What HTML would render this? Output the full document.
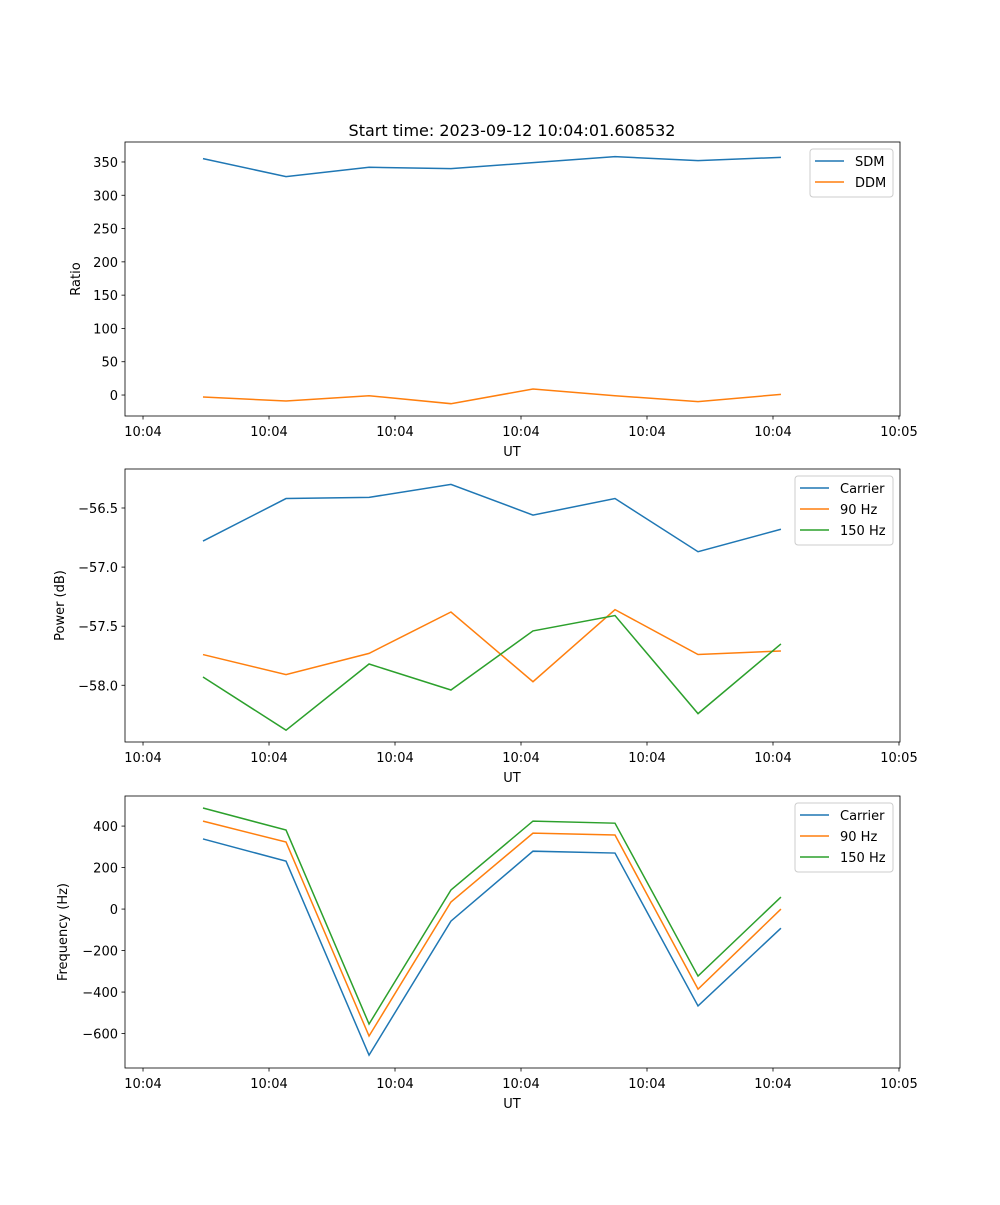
<!DOCTYPE html>
<html><head><meta charset="utf-8"><style>
body{margin:0;background:#fff}
svg text{font-family:"DejaVu Sans","Liberation Sans",sans-serif;fill:#000}
</style></head><body>
<svg id="fig" width="1000" height="1200" xmlns="http://www.w3.org/2000/svg">
<rect width="1000" height="1200" fill="#fff"/>
<text x="512" y="136" font-size="16" text-anchor="middle">Start time: 2023-09-12 10:04:01.608532</text>
</svg>
<script>
const times=[0.476,1.135,1.794,2.444,3.095,3.746,4.405,5.063];
const xTicks=[0,1,2,3,4,5,6];
const xTickLabels=["10:04","10:04","10:04","10:04","10:04","10:04","10:05"];
const sdm=[355,328,342,340,349,358,352,357];
const ddm=[-3,-9,-1,-13,9,-1,-10,1];
const powCarrier=[-56.78,-56.42,-56.41,-56.30,-56.56,-56.42,-56.87,-56.68];
const pow90=[-57.74,-57.91,-57.73,-57.38,-57.97,-57.36,-57.74,-57.71];
const pow150=[-57.93,-58.38,-57.82,-58.04,-57.54,-57.41,-58.24,-57.65];
const freqCarrier=[338,231,-704,-58,279,270,-467,-92];
const freq90=[424,323,-612,34,366,357,-386,0];
const freq150=[487,381,-554,92,424,414,-323,58];
const ratioTicks=[0,50,100,150,200,250,300,350];
const powTicks=[-58.0,-57.5,-57.0,-56.5];
const freqTicks=[-600,-400,-200,0,200,400];
const NS="http://www.w3.org/2000/svg";
const svg=document.getElementById('fig');
const C=['#1f77b4','#ff7f0e','#2ca02c'];
function mk(t,a,p){const e=document.createElementNS(NS,t);for(const k in a)e.setAttribute(k,a[k]);(p||svg).appendChild(e);return e;}
function panel(name,top,bottom,ymin,ymax,yticks,fmt,ylabel,series,names,legend){
  const L=125,R=900,xmin=-0.143,xmax=6.008;
  const g=mk('g',{});
  
  
  const X=v=>L+(v-xmin)/(xmax-xmin)*(R-L);
  const Y=v=>bottom-(v-ymin)/(ymax-ymin)*(bottom-top);
  series.forEach((s,i)=>{
    const pl=mk('polyline',{points:s.map((v,j)=>X(times[j])+','+Y(v)).join(' '),fill:'none',stroke:C[i],'stroke-width':1.5},g);
    
    
  });
  mk('rect',{x:L,y:top,width:R-L,height:bottom-top,fill:'none',stroke:'#000','stroke-width':0.8},g);
  xTicks.forEach((t,i)=>{const x=X(t);mk('line',{x1:x,x2:x,y1:bottom,y2:bottom+3.5,stroke:'#000','stroke-width':0.8},g);
    const tx=mk('text',{x:x,y:bottom+20,'font-size':13,'text-anchor':'middle'},g);tx.textContent=xTickLabels[i];
    
    });
  yticks.forEach(t=>{const y=Y(t);mk('line',{x1:L,x2:L-3.5,y1:y,y2:y,stroke:'#000','stroke-width':0.8},g);
    const tx=mk('text',{x:L-7,y:y+5,'font-size':13,'text-anchor':'end'},g);tx.textContent=fmt(t);
    
    });
  const xl=mk('text',{x:512,y:bottom+40,'font-size':13,'text-anchor':'middle'},g);xl.textContent='UT';
  
  
  const yx=legend.ylx;
  const yl=mk('text',{x:yx,y:(top+bottom)/2,'font-size':13,'text-anchor':'middle',transform:`rotate(-90 ${yx} ${(top+bottom)/2})`},g);yl.textContent=ylabel;
  
  
  const lg=mk('g',{},g);
  
  
  mk('rect',{x:legend.x,y:top+7,width:893-legend.x,height:names.length*21+6,rx:3,fill:'#fff','fill-opacity':0.8,stroke:'#ccc'},lg);
  names.forEach((n,i)=>{const y=top+19+i*21;
    mk('line',{x1:legend.x+5,x2:legend.x+34,y1:y,y2:y,stroke:C[i],'stroke-width':1.5},lg);
    const t=mk('text',{x:legend.x+45,y:y+5,'font-size':13},lg);t.textContent=n;
    
    });
}
panel('ratio',142,416,-31.5,380,ratioTicks,v=>String(v),'Ratio',[sdm,ddm],['SDM','DDM'],{x:810,ylx:80});
panel('power',469,742,-58.48,-56.17,powTicks,v=>(v<0?'\u2212':'')+Math.abs(v).toFixed(1),'Power (dB)',[powCarrier,pow90,pow150],['Carrier','90 Hz','150 Hz'],{x:795,ylx:64});
panel('frequency',796,1068,-766,545,freqTicks,v=>(v<0?'\u2212':'')+Math.abs(v),'Frequency (Hz)',[freqCarrier,freq90,freq150],['Carrier','90 Hz','150 Hz'],{x:795,ylx:67});
</script>
</body></html>
